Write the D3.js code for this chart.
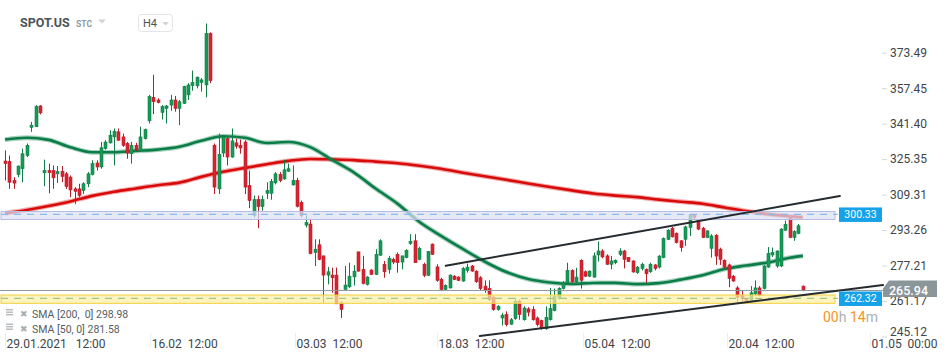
<!DOCTYPE html>
<html><head><meta charset="utf-8">
<script src="https://cdn.jsdelivr.net/npm/d3@7"></script>
<style>
html,body{margin:0;padding:0;background:#fff;}
svg{display:block;font-family:Roboto,"Noto Sans",sans-serif;}
</style></head><body>
<svg id="chart" width="950" height="361"></svg>
<script>
// ---- data (H4 candles, 0-based index) ----
const opens = [
324.5,324.3,315.7,318.4,321.0,327.0,339.7,340.0,349.4,319.2,
320.2,320.2,318.7,319.8,318.7,317.2,311.9,311.9,311.1,314.2,
318.4,323.6,321.8,330.1,332.7,335.4,337.7,335.4,332.4,327.8,
331.6,329.3,334.6,342.7,353.3,352.1,346.5,348.3,349.8,352.1,
348.3,350.6,354.4,358.6,358.5,360.0,358.9,382.1,331.6,311.9,
328.1,334.6,326.3,332.7,331.6,333.1,313.4,299.8,307.0,303.9,
309.9,309.9,314.6,318.4,316.4,319.9,313.7,315.7,305.8,295.5,
296.0,283.1,286.6,281.6,272.9,272.9,272.9,260.3,266.4,267.6,
272.1,283.4,275.5,268.7,275.2,273.2,281.9,277.8,275.5,280.0,
282.3,278.8,280.8,287.2,288.4,280.0,277.8,272.8,286.9,276.6,
271.0,266.4,267.1,272.4,272.0,270.2,275.0,277.0,274.7,271.7,
267.9,266.8,262.9,257.3,253.5,255.0,250.7,253.2,261.1,252.7,
257.6,257.3,253.5,252.3,248.6,252.7,256.8,262.3,266.8,269.4,
275.0,269.9,279.6,274.4,272.4,272.0,282.0,283.8,281.6,277.8,
278.5,282.3,283.8,280.8,279.3,274.0,275.9,275.5,274.4,277.5,
276.5,280.8,289.1,294.1,291.7,288.4,289.1,294.4,300.2,297.5,
294.1,289.9,285.0,290.9,284.6,279.6,277.5,272.4,267.1,263.8,
262.3,261.1,264.4,267.1,266.8,276.5,282.0,277.0,277.0,293.2,
299.0,289.9,291.7,267.9];
const highs = [
329.3,327.0,317.2,322.5,330.1,332.4,342.2,349.8,349.8,325.1,
323.3,322.5,322.2,322.2,319.5,318.0,312.7,314.2,314.9,319.5,
324.8,324.8,333.1,333.9,338.4,339.2,339.2,336.9,333.1,333.1,
332.7,340.0,339.2,354.4,363.5,352.9,349.8,349.8,354.4,353.9,
352.1,358.5,359.7,365.4,362.7,362.0,386.7,382.7,332.4,336.9,
336.2,335.4,339.2,334.6,334.2,333.9,320.2,308.9,308.9,308.9,
314.9,316.4,319.5,319.5,325.1,323.3,322.5,316.9,306.6,299.8,
298.5,289.1,289.1,281.6,276.6,276.3,276.3,261.1,277.0,278.5,
277.4,283.4,281.6,272.4,275.5,284.6,289.1,279.3,281.6,280.8,
283.1,281.6,284.6,291.4,291.4,285.7,278.5,283.8,287.2,277.8,
271.7,268.7,273.2,272.9,272.4,276.5,278.1,277.5,275.0,272.4,
270.5,270.5,263.3,259.3,255.8,256.5,253.5,262.6,261.8,258.8,
258.4,258.8,254.2,252.7,258.8,267.1,266.8,267.4,270.2,278.5,
275.5,276.2,280.0,275.0,275.0,283.1,288.1,284.6,282.3,281.5,
280.0,285.0,284.3,281.0,279.6,277.0,278.5,275.9,278.5,277.8,
281.9,289.9,293.7,294.7,292.2,288.7,295.2,300.5,300.2,297.8,
294.7,293.2,291.4,291.4,285.3,280.0,278.1,272.9,267.9,265.9,
262.6,267.9,270.5,267.9,277.5,285.6,285.3,284.1,294.1,297.5,
299.8,293.2,296.0,268.2];
const lows = [
315.7,311.9,311.9,317.2,314.9,326.3,337.7,340.0,345.6,313.1,
309.9,311.9,314.6,314.9,311.9,308.1,305.1,308.1,309.6,312.7,
318.0,320.2,321.0,329.6,332.4,322.5,333.6,330.9,325.5,323.3,
329.0,329.0,334.2,341.5,345.7,350.6,343.3,341.5,347.2,346.8,
340.7,350.3,352.1,356.3,357.4,355.9,353.3,359.7,309.6,309.6,
326.3,322.5,326.0,330.1,327.8,309.6,303.2,299.0,294.1,302.0,
307.3,307.0,313.9,314.9,316.0,319.5,313.4,303.5,299.0,294.4,
282.3,277.0,279.6,260.3,268.7,264.9,259.9,253.5,266.4,267.1,
268.2,274.4,268.7,268.2,272.9,272.9,281.6,271.7,273.5,277.8,
274.0,275.5,280.5,286.6,278.5,279.6,272.0,272.5,282.0,269.9,
265.6,266.1,266.8,270.6,270.2,269.9,274.0,274.4,269.4,265.9,
264.9,261.1,256.8,256.8,250.1,249.7,250.4,252.7,252.7,252.3,
254.2,252.3,249.7,248.2,248.2,252.3,256.5,261.8,266.4,269.0,
269.4,269.4,266.8,272.0,272.0,271.7,279.0,280.5,277.5,275.5,
277.8,281.5,275.9,278.8,274.0,273.5,275.0,269.4,273.9,275.0,
275.9,280.5,288.7,289.9,287.2,283.5,286.1,290.6,298.2,293.2,
289.6,289.6,280.8,277.5,277.5,275.9,267.4,269.9,260.3,261.1,
260.3,260.3,263.8,263.3,266.4,276.2,281.1,276.2,276.5,292.9,
289.6,288.4,291.4,265.6];
const closes = [
323.3,314.9,314.5,322.2,327.8,331.6,340.7,349.1,346.3,320.2,
319.2,316.9,319.8,317.5,313.0,311.4,310.8,308.9,314.2,318.7,
323.3,321.8,330.5,333.1,336.2,338.0,333.9,331.6,328.1,331.6,
329.6,335.4,338.7,353.6,351.3,351.0,349.1,349.4,352.1,348.3,
351.3,358.2,358.9,360.0,362.4,361.2,382.1,360.9,312.7,327.5,
335.4,326.3,333.6,331.2,330.4,312.7,306.6,307.0,303.9,307.0,
311.1,315.2,318.7,315.7,320.5,321.0,315.7,304.0,299.8,296.7,
282.6,284.6,280.0,272.9,274.4,271.7,259.9,257.3,268.4,272.4,
274.7,274.7,269.1,272.0,273.2,282.3,288.4,274.4,280.5,278.8,
278.5,281.6,284.1,288.1,278.5,284.9,272.8,283.5,282.3,270.5,
266.4,268.2,272.9,270.9,270.5,275.8,276.5,274.7,269.9,266.8,
265.9,261.8,257.3,258.8,254.8,250.5,252.7,261.1,255.0,258.0,
256.1,252.7,250.5,248.9,253.8,257.7,263.3,266.8,269.0,275.0,
269.9,272.0,270.5,272.4,274.7,281.6,283.8,281.1,277.8,279.3,
279.6,283.8,280.0,279.0,274.3,276.5,277.8,273.5,277.8,275.9,
281.5,289.4,293.2,290.2,287.6,285.3,294.7,300.2,299.0,293.7,
289.9,292.9,290.6,281.5,280.0,276.5,271.4,270.2,262.9,262.3,
261.1,264.9,267.1,263.8,277.0,282.6,283.1,283.8,293.7,295.9,
289.9,292.6,295.2,265.94];

// moving averages (candle index -> value)
const smaIdx = [0,5,10,15,20,25,30,35,40,45,50,55,60,65,70,75,80,85,90,95,100,105,110,115,120,125,130,135,140,145,150,155,160,165,170,175,180,183];
const sma50 = [334.21,335.03,334.07,330.70,328.43,328.43,329.07,329.66,330.93,333.66,335.71,335.03,332.66,333.07,330.80,325.01,319.33,312.04,305.22,297.02,290.65,284.73,279.04,274.26,271.08,269.53,268.94,269.35,269.39,268.80,269.26,270.85,272.81,275.63,277.22,278.63,280.77,281.58];
const sma200 = [300.80,302.35,304.17,306.22,308.72,310.59,312.09,313.54,314.73,317.32,319.60,321.37,323.01,324.56,325.42,325.24,324.92,324.20,323.51,322.38,320.96,319.23,317.60,316.00,314.32,312.73,311.22,309.77,308.86,308.17,307.04,306.08,305.17,303.49,301.85,300.48,299.48,298.98];

const yTicks = [373.49,357.45,341.40,325.35,309.31,293.26,277.21,261.17,245.12];
const xTickIdx = [0,33.3,66.5,99.1,132.6,165.6,198.4];
const xTickLabels = ["29.01.2021   12:00","16.02  12:00","03.03  12:00","18.03  12:00","05.04  12:00","20.04  12:00","01.05  00:00"];

// horizontal zones
const zoneLow = [298.04, 260.13];
const zoneHigh = [301.66, 263.89];
const zoneLevel = [300.33, 262.32];
const zoneFill = ["#dde0f3", "#fcefa2"];
const zoneStroke = ["#b7bce2", "#f1d03c"];
const zoneDash = ["#86bdee", "#a3c48f"];

// trend lines [startIdx, startVal, endIdx, endVal]
const trendStartIdx = [101.1, 108.9];
const trendStartVal = [277.14, 245.34];
const trendEndIdx = [191.5, 201.4];
const trendEndVal = [308.67, 268.41];

const lastPrice = 265.94;
const legendLabels = ["SMA [200,  0] 298.98", "SMA [50, 0] 281.58"];

// ---- scales ----
const svg = d3.select("#chart");
const x = d3.scaleLinear().domain([0, 198.4]).range([5, 870]);
const y = d3.scaleLinear().domain([245.12, 373.49]).range([336.5, 52.7]);

// ---- header ----
svg.append("text").attr("x",20).attr("y",27).attr("font-size",12.5).attr("font-weight",700).attr("fill","#4b5358").text("SPOT.US");
svg.append("text").attr("x",76).attr("y",27).attr("font-size",8.5).attr("font-weight",700).attr("fill","#8d9aa5").text("STC");
svg.append("path").attr("d","M98,19.5 L106,19.5 L102,23.5 Z").attr("fill","#cfd4d8");
svg.append("rect").attr("x",138.5).attr("y",14.5).attr("width",34).attr("height",17).attr("rx",3).attr("fill","#fff").attr("stroke","#e1e5e8");
svg.append("text").attr("x",143).attr("y",27).attr("font-size",11).attr("fill","#4b5358").text("H4");
svg.append("path").attr("d","M162,22 L169,22 L165.5,25.5 Z").attr("fill","#cfd4d8");

// ---- SMA lines ----
const line = d3.line().x(d => x(d[0])).y(d => y(d[1])).curve(d3.curveMonotoneX);
function drawSma(vals, col){
  const pts = smaIdx.map((k,i)=>[k, vals[i]]);
  svg.append("path").attr("d", line(pts)).attr("fill","none").attr("stroke",col).attr("stroke-opacity",0.35).attr("stroke-width",4.8).attr("stroke-linejoin","round");
  svg.append("path").attr("d", line(pts)).attr("fill","none").attr("stroke",col).attr("stroke-width",2.6).attr("stroke-linejoin","round");
}
drawSma(sma200, "#d80a0a");
drawSma(sma50, "#0b7d49");

// ---- candles ----
const idx = d3.range(opens.length);
const up = i => closes[i] >= opens[i];
const cg = svg.append("g");
cg.selectAll("line.w").data(idx).join("line")
  .attr("x1", i => Math.round(x(i)) + 0.5).attr("x2", i => Math.round(x(i)) + 0.5)
  .attr("y1", i => y(highs[i])).attr("y2", i => y(lows[i]))
  .attr("stroke", i => up(i) ? "#0f7d45" : "#b81d28").attr("stroke-width",1);
cg.selectAll("rect.b").data(idx).join("rect")
  .attr("x", i => Math.round(x(i)) - 1).attr("width", 3)
  .attr("y", i => y(Math.max(opens[i], closes[i])))
  .attr("height", i => Math.max(1, Math.abs(y(opens[i]) - y(closes[i]))))
  .attr("fill", i => up(i) ? "#169a57" : "#d8232f")
  .attr("stroke", i => up(i) ? "#0f7d45" : "#b81d28").attr("stroke-width",0.6);

// ---- zones ----
zoneLevel.forEach((lv,k)=>{
  svg.append("rect").attr("x",1).attr("width",834)
    .attr("y", y(zoneHigh[k])).attr("height", y(zoneLow[k]) - y(zoneHigh[k]))
    .attr("fill", zoneFill[k]).attr("fill-opacity",0.72)
    .attr("stroke", zoneStroke[k]).attr("stroke-width",1);
  svg.append("line").attr("x1",1).attr("x2",838).attr("y1",y(lv)).attr("y2",y(lv))
    .attr("stroke", zoneDash[k]).attr("stroke-width",1.3).attr("stroke-dasharray","7,6");
});

// ---- last price line ----
svg.append("line").attr("x1",0).attr("x2",884).attr("y1",y(lastPrice)).attr("y2",y(lastPrice))
  .attr("stroke","#8e989c").attr("stroke-width",1);

// ---- trend lines ----
trendStartIdx.forEach((s,k)=>{
  svg.append("line").attr("x1",x(s)).attr("y1",y(trendStartVal[k]))
    .attr("x2",x(trendEndIdx[k])).attr("y2",y(trendEndVal[k]))
    .attr("stroke","#262b2f").attr("stroke-width",2).attr("stroke-linecap","round");
});

// ---- axes ----
const yAxis = svg.append("g").attr("transform","translate(882,0)")
  .call(d3.axisRight(y).tickValues(yTicks).tickSize(5).tickPadding(3).tickFormat(d3.format(".2f")));
yAxis.select(".domain").remove();
yAxis.selectAll(".tick line").attr("stroke","#d3d8db");
yAxis.selectAll(".tick text").attr("fill","#3d4549").attr("font-size",12).attr("font-family","Roboto,'Noto Sans',sans-serif")
  .attr("dy", d => d === 245.12 ? "-0.12em" : "0.32em");

const xAxis = svg.append("g").attr("transform","translate(0,333)")
  .call(d3.axisBottom(x).tickValues(xTickIdx).tickSize(15).tickFormat((d,i)=>xTickLabels[i]));
xAxis.select(".domain").remove();
xAxis.selectAll(".tick line").attr("stroke","#eceef0");
xAxis.selectAll(".tick text").attr("fill","#3d4549").attr("font-size",12).attr("font-family","Roboto,'Noto Sans',sans-serif")
  .attr("text-anchor","start").attr("x",1).attr("y",15).attr("dy",0).style("white-space","pre");

// ---- level labels ----
zoneLevel.forEach((lv,k)=>{
  svg.append("rect").attr("x",839).attr("y",y(lv)-7).attr("width",43).attr("height",14.5).attr("fill","#16a2e9");
  svg.append("text").attr("x",860.5).attr("y",y(lv)+3.8).attr("text-anchor","middle").attr("font-size",10.5).attr("fill","#fff").text(d3.format(".2f")(lv));
});
const yl = y(lastPrice);
svg.append("path").attr("d",`M883,${yl-2} L889,${yl-10} L937,${yl-10} L937,${yl+6.5} L883,${yl+6.5} Z`).attr("fill","#8b969b");
svg.append("text").attr("x",889).attr("y",yl+4.5).attr("font-size",12.5).attr("font-weight",500).attr("fill","#fff").text(d3.format(".2f")(lastPrice));

// ---- countdown ----
const cd = svg.append("text").attr("x",823).attr("y",321.5).attr("font-size",14);
cd.append("tspan").attr("fill","#f5931f").text("00");
cd.append("tspan").attr("fill","#a9b1b5").text("h ");
cd.append("tspan").attr("fill","#f5931f").text("14");
cd.append("tspan").attr("fill","#a9b1b5").text("m");

// ---- legend ----
legendLabels.forEach((t,k)=>{
  const g = svg.append("g").attr("transform",`translate(0,${k*14.5})`);
  [0,2.5,5].forEach(dy=>g.append("rect").attr("x",6).attr("y",309+dy).attr("width",7).attr("height",1.4).attr("fill","#b3b9bd"));
  g.append("text").attr("x",20).attr("y",317).attr("font-size",9).attr("fill","#a6adb1").text("\u2716");
  g.append("text").attr("x",32).attr("y",318.3).attr("font-size",10.5).attr("fill","#555d62").style("white-space","pre").text(t);
});
</script>
</body></html>
